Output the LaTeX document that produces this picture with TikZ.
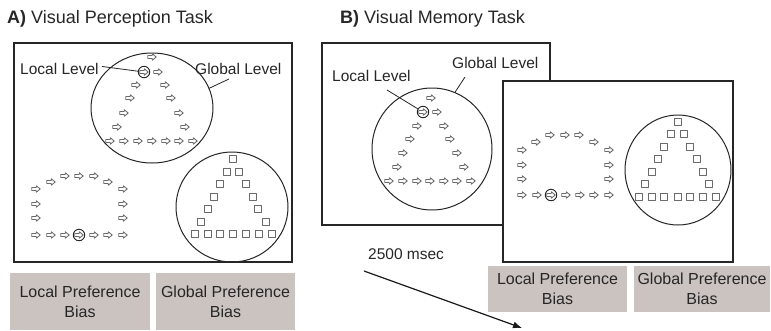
\documentclass[tikz,border=0pt]{standalone}
\usepackage{fontspec}
\setmainfont{Liberation Sans}
\usetikzlibrary{arrows.meta,shapes.geometric}
\definecolor{ink}{HTML}{262626}
\definecolor{glyphgray}{HTML}{6A6A6A}
\definecolor{biasgray}{HTML}{CBC3C0}

\tikzset{
  frame/.style={draw=black!85, line width=1.1pt, fill=white},
  ring/.style={ellipse, draw=black!85, line width=1pt, inner sep=0pt, outer sep=0pt},
  hilite/.style={circle, draw=black!85, line width=0.9pt, minimum size=11.5pt, inner sep=0pt, outer sep=0pt},
  glyphline/.style={draw=glyphgray, line width=0.85pt, line join=round},
  pointer/.style={draw=black!85, line width=0.8pt},
  lbl/.style={font=\fontsize{15.5}{18}\selectfont, text=ink, inner sep=0pt, anchor=base west},
  ttl/.style={font=\fontsize{18}{20}\selectfont, text=ink, inner sep=0pt, anchor=base west},
  biasbox/.style={fill=biasgray, draw=none, align=center, text=ink, inner sep=0pt,
    font=\fontsize{16}{20}\selectfont},
  arrowglyph/.pic={\draw[glyphline] (-4.2,-1.5) -- (0.3,-1.5) -- (0.3,-3.2) -- (4.2,0)
      -- (0.3,3.2) -- (0.3,1.5) -- (-4.2,1.5) -- cycle;},
  squareglyph/.pic={\draw[glyphline] (-3.1,-3.1) rectangle (3.1,3.1);},
}

\begin{document}
\begin{tikzpicture}[x=1pt, y=-1pt]
\useasboundingbox (0,0) rectangle (771,330);

% ---------------- Panel A: perception task ----------------
\node[ttl] (titleA) at (7,23) {\textbf{A)} Visual Perception Task};
\draw[frame] (14,43) rectangle (292,262);

% global triangle made of local arrows
\node[ring, minimum width=122pt, minimum height=110pt] (ringA) at (152,108) {};
\foreach \x/\y in {152/57,144/72,158/72,136/85,165/85,130/98,171/98,124/113,179/113,
    117/127,185/127,110/141,124/141,138/141,152/141,166/141,179/141,193/141}
  \pic at (\x,\y) {arrowglyph};
\node[hilite] (hiA) at (144,72) {};

% arch of arrows (local preference)
\foreach \x/\y in {65/176,79/176,94/176,51/182,108/182,36/189,123/189,36/204,123/204,
    36/218,123/218,36/235,51/235,65/235,79/235,94/235,108/235,123/235}
  \pic at (\x,\y) {arrowglyph};
\node[hilite] (hiA2) at (79,235) {};

% triangle of squares (global preference)
\node[ring, minimum width=112pt, minimum height=110pt] (ringA2) at (232,207) {};
\foreach \x/\y in {233/159,227/172,239/172,220/184,246/184,214/197,253/197,208/209,258/209,
    201/222,266/222,195/234,208/234,220/234,233/234,246/234,259/234,272/234}
  \pic at (\x,\y) {squareglyph};

% level labels and leaders
\node[lbl] (locA) at (20,74) {Local Level};
\node[lbl] (globA) at (195,74) {Global Level};
\coordinate (globAtail) at (229,79);
\draw[pointer] ([xshift=3pt,yshift=2pt]locA.east) -- (hiA);
\draw[pointer] (globAtail) -- (ringA.19);

% response choices
\node[biasbox, minimum width=140pt, minimum height=57pt] (biasAL) at (80,301.5) {Local Preference\\Bias};
\node[biasbox, minimum width=139pt, minimum height=57pt] (biasAG) at (225.5,301.5) {Global Preference\\Bias};

% ---------------- Panel B: memory task ----------------
\node[ttl] (titleB) at (340,23) {\textbf{B)} Visual Memory Task};

% sample display
\draw[frame] (322,43) rectangle (550,225);
\node[ring, minimum width=120pt, minimum height=122pt] (ringB) at (432,149) {};
\foreach \x/\y in {431/98,423/112,437/112,417/126,444/126,410/139,450/139,403/153,457/153,
    397/167,464/167,389/181,403/181,417/181,430/181,444/181,457/181,471/181}
  \pic at (\x,\y) {arrowglyph};
\node[hilite] (hiB) at (423,112) {};

\node[lbl] (locB) at (332,81) {Local Level};
\node[lbl] (globB) at (452,68) {Global Level};
\coordinate (locBtail) at (387,90);
\coordinate (globBtail) at (465,77);
\draw[pointer] (locBtail) -- (hiB);
\draw[pointer] (globBtail) -- (ringB.68);

% test display
\draw[frame] (503,81) rectangle (733,262);
\foreach \x/\y in {550/135,565/135,579/135,536/142,594/142,522/150,609/150,522/165,609/165,
    522/179,609/179,522/195,537/195,551/195,566/195,580/195,594/195,609/195}
  \pic at (\x,\y) {arrowglyph};
\node[hilite] (hiB2) at (551,195) {};

\node[ring, minimum width=106pt, minimum height=110pt] (ringB2) at (678,170) {};
\foreach \x/\y in {678/122,671/134,684/134,664/147,690/147,658/159,697/159,652/172,703/172,
    645/184,709/184,639/197,652/197,664/197,678/197,690/197,703/197,716/197}
  \pic at (\x,\y) {squareglyph};

\node[biasbox, minimum width=139pt, minimum height=46pt] (biasBL) at (557.5,289) {Local Preference\\Bias};
\node[biasbox, minimum width=136pt, minimum height=46pt] (biasBG) at (702,289) {Global Preference\\Bias};

% delay
\node[lbl] (delay) at (368,259) {2500 msec};
\coordinate (delayStart) at (364,271);
\coordinate (delayEnd) at (522,328);
\draw[black!90, line width=1.2pt, -{Latex[length=9pt,width=7pt]}] (delayStart) -- (delayEnd);
\end{tikzpicture}
\end{document}
